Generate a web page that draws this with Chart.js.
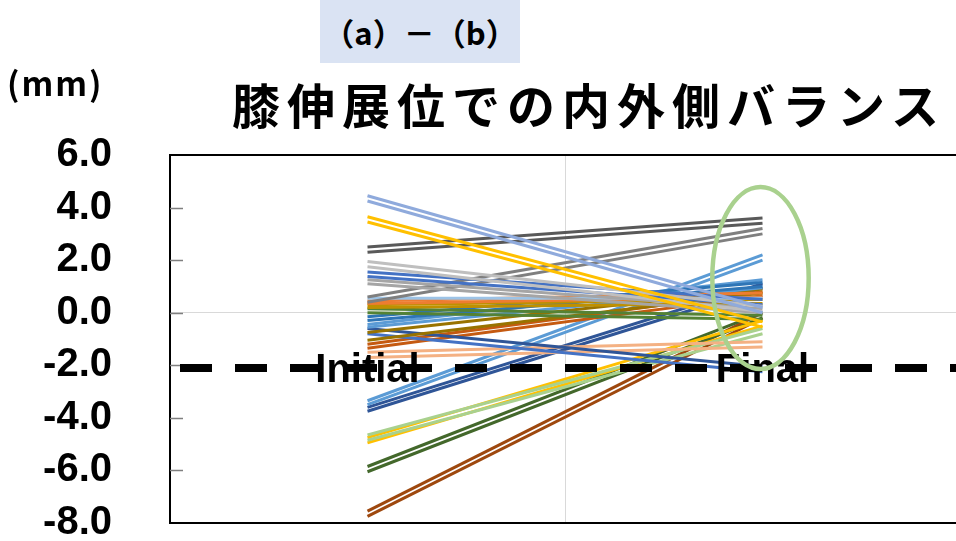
<!DOCTYPE html>
<html>
<head>
<meta charset="utf-8">
<script src="https://cdn.jsdelivr.net/npm/chart.js@4.4.1/dist/chart.umd.min.js"></script>
<style>
  html, body { margin: 0; padding: 0; background: #fff; overflow: hidden; width: 956px; height: 541px; }
  #wrap { position: absolute; left: 0; top: 0; width: 964px; height: 541px; }
  .t { position: absolute; font-family: "Noto Sans CJK JP", sans-serif; font-weight: 700; color: #000; white-space: nowrap; line-height: 1; }
  #tag { left: 320px; top: 0; width: 200px; height: 63px; background: #dae3f3; font-size: 31px; line-height: 63px; text-align: center; }
  #unit { left: 7px; top: 66px; font-size: 33px; letter-spacing: 2px; }
  #title { left: 232px; top: 79px; font-size: 48px; letter-spacing: 7px; }
</style>
</head>
<body>
<div id="wrap"><canvas id="c" width="964" height="541"></canvas></div>
<div class="t" id="tag">（a）－（b）</div>
<div class="t" id="unit">(mm)</div>
<div class="t" id="title">膝伸展位での内外側バランス</div>
<script>
// Two time points per knee
const categories = ['Initial', 'Final'];

// Medial-lateral balance (mm) at each time point, one entry per line
const initialValues = [
  4.45, 4.25, 3.65, 3.45, 2.50, 2.30, 1.95, 1.75, 1.55, 1.38,
  1.25, 1.10, 0.60, 0.40, 0.55, 0.45, 0.35, 0.30, 0.20, 0.15,
  0.00, -0.15, -0.30, -0.45, -0.55, -0.75, -1.05, -0.60, -0.80, -1.20,
  -1.35, -1.50, -1.70, -3.35, -3.50, -3.60, -3.75, -4.65, -4.85, -4.75,
  -4.95, -5.85, -6.05, -7.55, -7.75
];
const finalValues = [
  0.20, 0.00, -0.35, -0.55, 3.60, 3.40, 0.25, 0.05, 0.50, 0.30,
  0.15, 0.00, 3.20, 3.00, 0.55, 0.75, 0.60, 0.50, 0.35, -0.10,
  -0.25, 1.15, 1.00, 1.25, 0.95, 0.90, 0.75, -2.05, -2.25, 0.80,
  0.65, -1.10, -1.30, 2.20, 2.00, 1.10, 0.95, -0.60, -0.80, -0.30,
  -0.50, 0.00, -0.20, 0.00, -0.20
];
const lineColors = [
  '#8faadc', '#8faadc', '#ffc000', '#ffc000', '#595959', '#595959', '#bfbfbf', '#bfbfbf', '#4472c4', '#4472c4',
  '#a5a5a5', '#a5a5a5', '#7f7f7f', '#7f7f7f', '#9dc3e6', '#ed7d31', '#ed7d31', '#bf9000', '#bf9000', '#548235',
  '#548235', '#2e75b6', '#2e75b6', '#5b9bd5', '#5b9bd5', '#997300', '#997300', '#2f5597', '#4472c4', '#c55a11',
  '#c55a11', '#f4b183', '#f4b183', '#5b9bd5', '#5b9bd5', '#2f5597', '#2f5597', '#a9d18e', '#a9d18e', '#ffc000',
  '#ffc000', '#43682b', '#43682b', '#9e480e', '#9e480e'
];

// Axis range and the highlighted region around the final values
const yMin = -8, yMax = 6, yStep = 2;
const axisCross = -2.1;
const ringCenter = 1.32, ringHalfHeight = 3.46;

const FONT = '"Liberation Sans", Arial, sans-serif';

const datasets = initialValues.map((v, i) => ({
  data: [v, finalValues[i]],
  borderColor: lineColors[i],
  backgroundColor: lineColors[i],
  borderWidth: 3,
  pointRadius: 0,
  pointHoverRadius: 0,
  tension: 0,
  fill: false
}));

const frame = {
  id: 'frame',
  beforeDatasetsDraw(chart) {
    const { ctx, chartArea: a, scales: { x, y } } = chart;
    ctx.save();
    // category divider
    const mid = Math.round((x.getPixelForValue(0) + x.getPixelForValue(1)) / 2) + 0.5;
    ctx.strokeStyle = '#d9d9d9';
    ctx.lineWidth = 1;
    ctx.beginPath();
    ctx.moveTo(mid, a.top);
    ctx.lineTo(mid, a.bottom);
    ctx.stroke();
    // top and bottom borders of the plot
    ctx.strokeStyle = '#000';
    ctx.lineWidth = 2;
    ctx.beginPath();
    ctx.moveTo(a.left, a.top);
    ctx.lineTo(a.right, a.top);
    ctx.moveTo(a.left, a.bottom);
    ctx.lineTo(a.right, a.bottom);
    ctx.stroke();
    // inside tick marks on the value axis
    ctx.strokeStyle = '#7f7f7f';
    ctx.lineWidth = 1.5;
    for (let v = yMin + yStep; v < yMax; v += yStep) {
      const py = Math.round(y.getPixelForValue(v)) + 0.5;
      ctx.beginPath();
      ctx.moveTo(a.left, py);
      ctx.lineTo(a.left + 13, py);
      ctx.stroke();
    }
    ctx.restore();
  },
  afterDatasetsDraw(chart) {
    const { ctx, chartArea: a, scales: { x, y } } = chart;
    ctx.save();
    // dashed category axis crossing near -2
    const py = y.getPixelForValue(axisCross);
    ctx.strokeStyle = '#000';
    ctx.lineWidth = 8;
    ctx.setLineDash([32, 23]);
    ctx.beginPath();
    ctx.moveTo(a.left + 10, py);
    ctx.lineTo(a.right, py);
    ctx.stroke();
    ctx.setLineDash([]);
    // category labels sitting on the axis
    ctx.fillStyle = '#000';
    ctx.font = 'bold 40px ' + FONT;
    ctx.textAlign = 'center';
    ctx.textBaseline = 'middle';
    categories.forEach((c, i) => {
      ctx.fillText(c, x.getPixelForValue(i), py + 3);
    });
    // ring around the final values
    const cx = x.getPixelForValue(1) - 2;
    const cy = y.getPixelForValue(ringCenter);
    const ry = Math.abs(y.getPixelForValue(ringCenter + ringHalfHeight) - cy);
    const rx = (x.getPixelForValue(1) - x.getPixelForValue(0)) * 0.122;
    ctx.strokeStyle = '#a9d18e';
    ctx.lineWidth = 4.5;
    ctx.beginPath();
    ctx.ellipse(cx, cy, rx, ry, 0, 0, Math.PI * 2);
    ctx.stroke();
    ctx.restore();
  }
};

new Chart(document.getElementById('c'), {
  type: 'line',
  data: { labels: categories, datasets },
  options: {
    responsive: false,
    animation: false,
    events: [],
    layout: { padding: { top: 155, bottom: 18, left: 0, right: 4 } },
    plugins: { legend: { display: false }, tooltip: { enabled: false }, title: { display: false } },
    scales: {
      x: {
        type: 'category',
        offset: true,
        display: false
      },
      y: {
        min: yMin,
        max: yMax,
        ticks: {
          stepSize: yStep,
          color: '#000',
          padding: 0,
          font: { family: FONT, size: 40, weight: 'bold', lineHeight: 0.8 },
          callback: v => Number(v).toFixed(1)
        },
        grid: {
          drawTicks: true,
          tickLength: 58,
          tickColor: 'rgba(0,0,0,0)',
          color: c => (c.tick && c.tick.value === 0 ? '#d9d9d9' : 'rgba(0,0,0,0)'),
          lineWidth: 1
        },
        border: { display: true, color: '#000', width: 2 },
        afterFit(s) { s.width = 170; }
      }
    }
  },
  plugins: [frame]
});
</script>
</body>
</html>
